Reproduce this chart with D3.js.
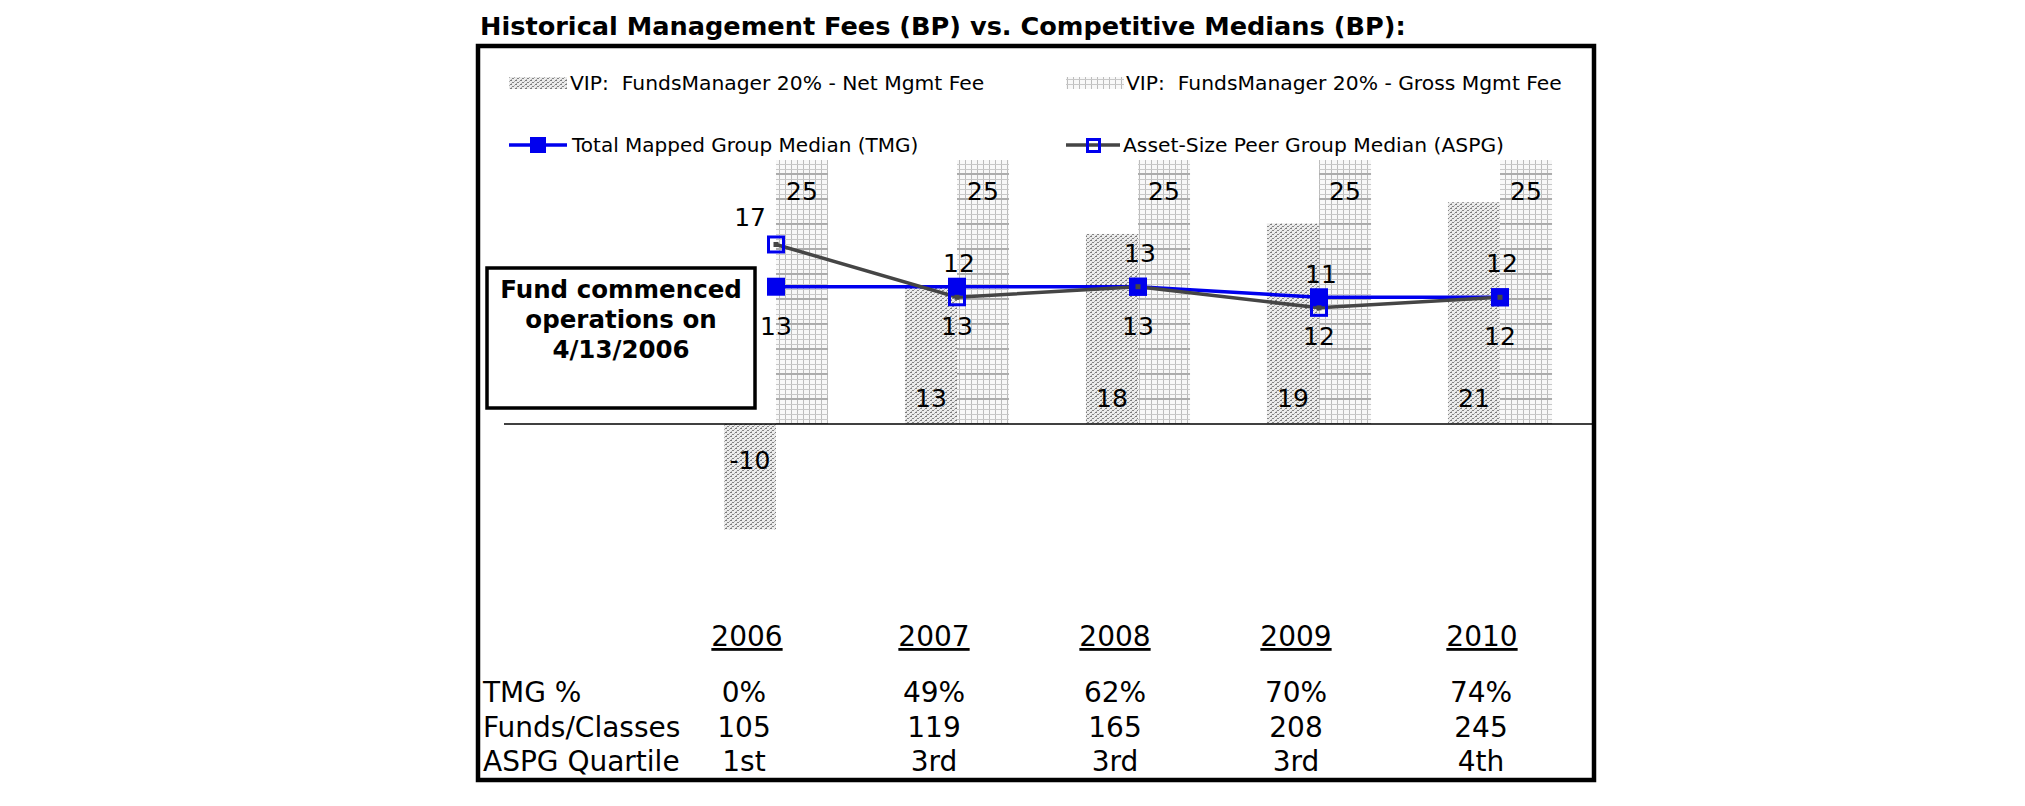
<!DOCTYPE html>
<html>
<head>
<meta charset="utf-8">
<script src="https://cdn.jsdelivr.net/npm/d3@7"></script>
<style>
  html, body { margin: 0; padding: 0; background: #fff; }
  svg { display: block; }
  text { font-family: "DejaVu Sans", Verdana, sans-serif; fill: #000; }
</style>
</head>
<body>
<svg id="chart" width="2025" height="806"></svg>
<script>
// ---------- data ----------
const years = ["2006", "2007", "2008", "2009", "2010"];
const netFee = [-10, 13, 18, 19, 21];     // VIP: FundsManager 20% - Net Mgmt Fee
const grossFee = [25, 25, 25, 25, 25];    // VIP: FundsManager 20% - Gross Mgmt Fee
const tmgMedian = [13, 13, 13, 12, 12];   // Total Mapped Group Median
const aspgMedian = [17, 12, 13, 11, 12];  // Asset-Size Peer Group Median
const tmgPct = ["0%", "49%", "62%", "70%", "74%"];
const fundsClasses = ["105", "119", "165", "208", "245"];
const aspgQuartile = ["1st", "3rd", "3rd", "3rd", "4th"];
const rowLabels = ["TMG %", "Funds/Classes", "ASPG Quartile"];
const seriesNames = [
  "VIP:  FundsManager 20% - Net Mgmt Fee",
  "VIP:  FundsManager 20% - Gross Mgmt Fee",
  "Total Mapped Group Median (TMG)",
  "Asset-Size Peer Group Median (ASPG)"
];
const titleText = "Historical Management Fees (BP) vs. Competitive Medians (BP):";
const noteLines = ["Fund commenced", "operations on", "4/13/2006"];

// ---------- setup ----------
const svg = d3.select("#chart");
const BLUE = "#0000ee", GREY = "#454545";

const defs = svg.append("defs");
// net fee pattern: light dotted grey
const pNet = defs.append("pattern").attr("id", "pNet").attr("patternUnits", "userSpaceOnUse")
  .attr("width", 5).attr("height", 4);
pNet.append("rect").attr("width", 5).attr("height", 4).attr("fill", "#ececec");
pNet.append("rect").attr("x", 0).attr("y", 0).attr("width", 2).attr("height", 1).attr("fill", "#7a7a7a");
pNet.append("rect").attr("x", 2).attr("y", 2).attr("width", 2).attr("height", 1).attr("fill", "#858585");
pNet.append("rect").attr("x", 4).attr("y", 1).attr("width", 1).attr("height", 1).attr("fill", "#b0b0b0");
pNet.append("rect").attr("x", 1).attr("y", 3).attr("width", 1).attr("height", 1).attr("fill", "#b0b0b0");
// gross fee pattern: light grey grid
const pGross = defs.append("pattern").attr("id", "pGross").attr("patternUnits", "userSpaceOnUse")
  .attr("width", 6).attr("height", 25);
pGross.append("rect").attr("width", 6).attr("height", 25).attr("fill", "#f8f8f8");
pGross.append("rect").attr("x", 5).attr("y", 0).attr("width", 1).attr("height", 25).attr("fill", "#bcbcbc");
[4, 9, 14, 19].forEach(v => pGross.append("rect").attr("x", 0).attr("y", v).attr("width", 6).attr("height", 1).attr("fill", "#c8c8c8"));
pGross.append("rect").attr("x", 0).attr("y", 23).attr("width", 6).attr("height", 2).attr("fill", "#acacac");

// scales
const x = d3.scaleBand().domain(years).range([685.5, 1590.5]).paddingInner(0.425).paddingOuter(0.2125);
const xSub = d3.scaleBand().domain(["net", "gross"]).range([0, x.bandwidth()]);
const y = d3.scaleLinear().domain([-10, 25]).range([529.6, 160]);
const cx = yr => x(yr) + x.bandwidth() / 2;

// title
svg.append("text").attr("x", 480).attr("y", 35).attr("font-weight", "bold")
  .attr("font-size", 25.6).text(titleText);

// outer frame
svg.append("rect").attr("x", 478).attr("y", 46).attr("width", 1116).attr("height", 734)
  .attr("fill", "none").attr("stroke", "#000").attr("stroke-width", 4.5);

// ---------- legend ----------
const lg = svg.append("g");
const LFS = 20.3;
lg.append("rect").attr("x", 509).attr("y", 77).attr("width", 58).attr("height", 12).attr("fill", "url(#pNet)");
lg.append("text").attr("x", 570).attr("y", 90).attr("font-size", LFS).attr("xml:space", "preserve").text(seriesNames[0]);
lg.append("rect").attr("x", 1066).attr("y", 77).attr("width", 58).attr("height", 12).attr("fill", "url(#pGross)");
lg.append("text").attr("x", 1126).attr("y", 90).attr("font-size", LFS).attr("xml:space", "preserve").text(seriesNames[1]);
lg.append("line").attr("x1", 509).attr("x2", 567).attr("y1", 145).attr("y2", 145).attr("stroke", BLUE).attr("stroke-width", 3.5);
lg.append("rect").attr("x", 530).attr("y", 137).attr("width", 16).attr("height", 16).attr("fill", BLUE);
lg.append("text").attr("x", 572).attr("y", 152).attr("font-size", 20).text(seriesNames[2]);
lg.append("line").attr("x1", 1066).attr("x2", 1120).attr("y1", 145).attr("y2", 145).attr("stroke", GREY).attr("stroke-width", 3.5);
lg.append("rect").attr("x", 1087.5).attr("y", 139.5).attr("width", 12).attr("height", 12).attr("fill", "none").attr("stroke", BLUE).attr("stroke-width", 3);
lg.append("text").attr("x", 1123).attr("y", 152).attr("font-size", LFS).text(seriesNames[3]);

// ---------- bars ----------
const data = years.map((yr, i) => ({ yr, net: netFee[i], gross: grossFee[i], tmg: tmgMedian[i], aspg: aspgMedian[i] }));

const bars = svg.append("g");
bars.selectAll("rect.gross").data(data).join("rect").attr("class", "gross")
  .attr("x", d => x(d.yr) + xSub("gross")).attr("width", xSub.bandwidth())
  .attr("y", d => y(Math.max(0, d.gross))).attr("height", d => Math.abs(y(d.gross) - y(0)))
  .attr("fill", "url(#pGross)");
bars.selectAll("rect.net").data(data).join("rect").attr("class", "net")
  .attr("x", d => x(d.yr) + xSub("net")).attr("width", xSub.bandwidth())
  .attr("y", d => y(Math.max(0, d.net))).attr("height", d => Math.abs(y(d.net) - y(0)))
  .attr("fill", "url(#pNet)");

// zero line
svg.append("line").attr("x1", 504).attr("x2", 1594).attr("y1", y(0)).attr("y2", y(0))
  .attr("stroke", "#000").attr("stroke-width", 1.6);

// bar labels
bars.selectAll("text.gl").data(data).join("text").attr("class", "gl")
  .attr("x", d => x(d.yr) + xSub("gross") + xSub.bandwidth() / 2)
  .attr("y", d => y(d.gross) + 40).attr("text-anchor", "middle").attr("font-size", 25)
  .text(d => d.gross);
bars.selectAll("text.nl").data(data).join("text").attr("class", "nl")
  .attr("x", d => x(d.yr) + xSub("net") + xSub.bandwidth() / 2)
  .attr("y", d => d.net >= 0 ? y(0) - 17 : y(0) + 45).attr("text-anchor", "middle").attr("font-size", 25)
  .text(d => d.net);

// ---------- lines ----------
const lineTmg = d3.line().x(d => cx(d.yr)).y(d => y(d.tmg));
const lineAspg = d3.line().x(d => cx(d.yr)).y(d => y(d.aspg));
svg.append("path").datum(data).attr("d", lineTmg).attr("fill", "none").attr("stroke", BLUE).attr("stroke-width", 3.5);
svg.append("path").datum(data).attr("d", lineAspg).attr("fill", "none").attr("stroke", GREY).attr("stroke-width", 3.5);

const mk = svg.append("g");
mk.selectAll("rect.tm").data(data).join("rect").attr("class", "tm")
  .attr("x", d => cx(d.yr) - 9).attr("y", d => y(d.tmg) - 9).attr("width", 18).attr("height", 18)
  .attr("fill", BLUE);
mk.selectAll("rect.am").data(data).join("rect").attr("class", "am")
  .attr("x", d => cx(d.yr) - 7.5).attr("y", d => y(d.aspg) - 7.5).attr("width", 15).attr("height", 15)
  .attr("fill", "none").attr("stroke", BLUE).attr("stroke-width", 3);
mk.selectAll("rect.ad").data(data).join("rect").attr("class", "ad")
  .attr("x", d => cx(d.yr) - 2.5).attr("y", d => y(d.aspg) - 2.5).attr("width", 5).attr("height", 5)
  .attr("fill", GREY);

// line labels
const ll = svg.append("g").attr("font-size", 25);
ll.selectAll("text.ta").data(data).join("text").attr("class", "ta")
  .attr("x", (d, i) => i === 0 ? cx(d.yr) - 10 : cx(d.yr) + 2)
  .attr("y", (d, i) => i === 0 ? y(d.aspg) - 18 : y(d.aspg) - 25)
  .attr("text-anchor", (d, i) => i === 0 ? "end" : "middle")
  .text(d => d.aspg);
ll.selectAll("text.tb").data(data).join("text").attr("class", "tb")
  .attr("x", d => cx(d.yr)).attr("y", d => y(d.tmg) + 48)
  .attr("text-anchor", "middle").text(d => d.tmg);

// ---------- note box ----------
svg.append("rect").attr("x", 487).attr("y", 268).attr("width", 268).attr("height", 140)
  .attr("fill", "#fff").attr("stroke", "#000").attr("stroke-width", 3.5);
svg.append("g").selectAll("text").data(noteLines).join("text")
  .attr("x", 621).attr("y", (d, i) => 298 + i * 30).attr("text-anchor", "middle")
  .attr("font-weight", "bold").attr("font-size", 24.5).text(d => d);

// ---------- table ----------
const tb = svg.append("g").attr("font-size", 28);
const colX = yr => cx(yr) - 23;
tb.selectAll("text.yr").data(years).join("text").attr("class", "yr")
  .attr("x", (d, i) => colX(d) - (i === 0 ? 6 : 0) + (i === 4 ? 5 : 0)).attr("y", 646).attr("text-anchor", "middle")
  .style("text-decoration", "underline").text(d => d);
const rows = [tmgPct, fundsClasses, aspgQuartile];
const rowY = [702, 737, 771];
rowLabels.forEach((lab, r) => {
  tb.append("text").attr("x", 483).attr("y", rowY[r]).text(lab);
  tb.selectAll("text.r" + r).data(rows[r]).join("text").attr("class", "r" + r)
    .attr("x", (d, i) => colX(years[i]) - (i === 0 ? 9 : 0) + (i === 4 ? 4 : 0)).attr("y", rowY[r])
    .attr("text-anchor", "middle").text(d => d);
});
</script>
</body>
</html>
